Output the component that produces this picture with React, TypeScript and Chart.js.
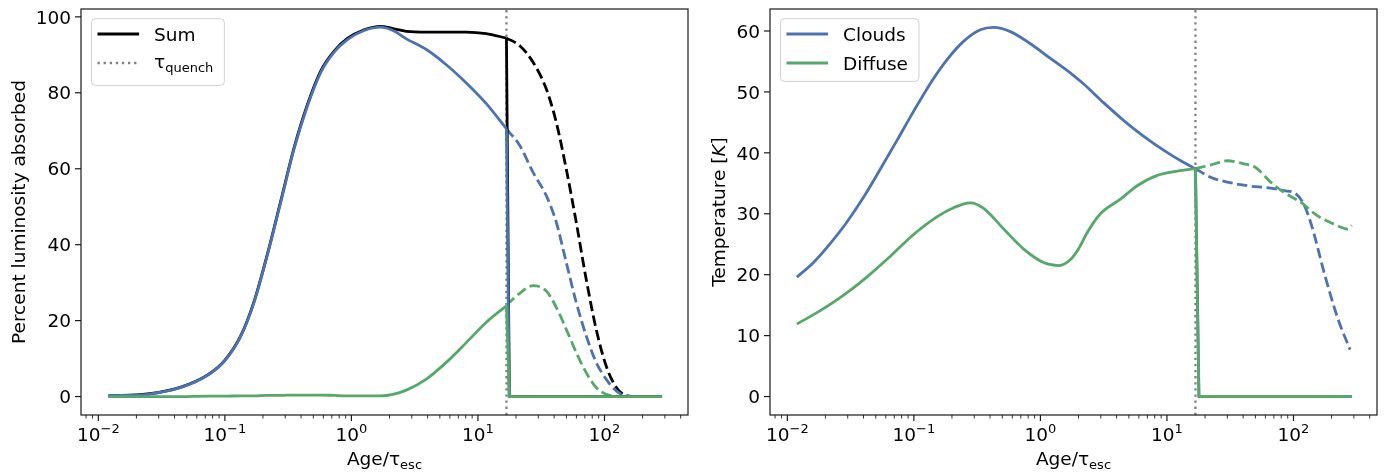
import { useEffect, useRef } from "react";
import { Chart, registerables } from "chart.js";

Chart.register(...registerables);

// ---------------------------------------------------------------------------
// Left panel: percent of the luminosity absorbed vs. age (in escape times)
// ---------------------------------------------------------------------------
const LUM_AGE = [
  0.012, 0.0245, 0.045, 0.073, 0.099, 0.134, 0.17, 0.216, 0.276, 0.352, 0.45,
  0.573, 0.73, 0.93, 1.26, 1.7, 2.13, 2.72, 3.91, 5.62, 8.09, 11.6, 16.8,
];
const LUM_SUM = [
  0.2, 0.7, 2.5, 5.7, 9.4, 16.1, 25.0, 37.3, 51.4, 65.5, 77.0,
  85.8, 91.0, 94.3, 96.6, 97.5, 96.9, 96.2, 96.0, 96.0, 96.0, 95.6, 94.4,
];
const LUM_CLOUDS = [
  0.2, 0.6, 2.4, 5.6, 9.3, 16.0, 24.8, 37.1, 51.1, 65.2, 76.6,
  85.4, 90.7, 94.0, 96.4, 97.3, 96.4, 94.2, 91.4, 87.4, 82.6, 77.2, 70.5,
];
const LUM_DIFFUSE = [
  0, 0, 0, 0.1, 0.1, 0.2, 0.2, 0.3, 0.3, 0.4, 0.4,
  0.4, 0.3, 0.2, 0.2, 0.2, 0.6, 1.7, 4.6, 9.0, 14.2, 19.5, 23.9,
];
// After quenching everything drops to zero
const LUM_AGE_OFF = [17.7, 285];
const LUM_OFF = [0, 0];

// Continuation without quenching (dashed)
const LUM_AGE_NQ = [16.8, 21.4, 27.2, 34.7, 41.6, 49.9, 59.8, 71.7, 86, 103, 124, 148, 180, 285];
const LUM_SUM_NQ = [94.4, 92.4, 88.1, 81.0, 72.2, 59.9, 45.9, 30.9, 17.7, 8.1, 2.4, 0.3, 0, 0];
const LUM_CLOUDS_NQ = [70.5, 66.1, 59.1, 52.9, 45.9, 35.3, 24.8, 16.0, 9.0, 4.6, 1.5, 0.2, 0, 0];
const LUM_DIFFUSE_NQ = [24.1, 27.2, 29.2, 27.8, 23.5, 17.7, 11.6, 6.3, 2.4, 0.6, 0.1, 0, 0, 0];

// ---------------------------------------------------------------------------
// Right panel: dust temperature vs. age
// ---------------------------------------------------------------------------
const TEMP_AGE_CLOUDS = [
  0.0119, 0.0161, 0.0218, 0.0295, 0.04, 0.0542, 0.0734, 0.0994, 0.135, 0.183, 0.247,
  0.335, 0.427, 0.579, 0.834, 1.2, 1.73, 2.2, 3.17, 4.56, 6.56, 9.46, 13.6, 16.8,
];
const TEMP_CLOUDS = [
  19.6, 22.0, 25.1, 28.6, 32.7, 37.3, 42.0, 46.8, 51.4, 55.3, 58.3,
  60.2, 60.6, 59.9, 57.9, 55.5, 53.1, 51.3, 48.2, 45.3, 42.7, 40.4, 38.4, 37.4,
];
const TEMP_AGE_DIFFUSE = [
  0.0119, 0.0182, 0.0277, 0.0425, 0.065, 0.0994, 0.152, 0.206, 0.279, 0.356, 0.513,
  0.738, 1.06, 1.4, 1.73, 2.01, 2.34, 2.98, 4.29, 5.82, 8.38, 12.1, 16.8,
];
const TEMP_DIFFUSE = [
  11.9, 14.1, 16.6, 19.6, 23.0, 26.6, 29.5, 31.0, 31.8, 30.9, 27.5,
  24.2, 22.0, 21.5, 22.5, 24.3, 26.9, 30.0, 32.4, 34.6, 36.3, 37.0, 37.4,
];
const TEMP_AGE_OFF = [17.9, 289];
const TEMP_OFF = [0, 0];

const TEMP_AGE_CLOUDS_NQ = [16.8, 22.1, 30, 43.2, 66, 84, 104, 121, 139, 177, 225, 280];
const TEMP_CLOUDS_NQ = [37.4, 36.0, 35.2, 34.6, 34.2, 33.8, 33.3, 31.5, 28.1, 19.9, 12.7, 7.7];
const TEMP_AGE_DIFFUSE_NQ = [16.8, 22.1, 30, 40.6, 50.2, 66, 84, 114, 154, 209, 267, 289];
const TEMP_DIFFUSE_NQ = [37.4, 38.0, 38.7, 38.2, 37.6, 35.2, 33.5, 31.9, 29.7, 28.3, 27.5, 28.1];

// Quench time and axis ticks
const T_QUENCH = 16.8;
const X_EXPONENTS = [-2, -1, 0, 1, 2];
const LUM_TICKS = [0, 20, 40, 60, 80, 100];
const TEMP_TICKS = [0, 10, 20, 30, 40, 50, 60];
const LUM_RANGE = [-4.86, 102.07];
const TEMP_RANGE = [-3.03, 63.61];
const AGE_RANGE = [Math.pow(10, -2.137), Math.pow(10, 2.66)];

// ---------------------------------------------------------------------------
// Styling
// ---------------------------------------------------------------------------
const BLUE = "#4C72B0";
const GREEN = "#55A868";
const BLACK = "#000000";
const GREY = "#808080";
const LW = 2.8;
const DASH = [10.4, 4.5];
const DOT = [2.3, 3.8];
const FAMILY = "'DejaVu Sans', sans-serif";
const BIG = 18.5;
const SMALL = 13;

type Run = { t: string; px: number; dy?: number; italic?: boolean };
type LegendEntry = { color: string; dotted?: boolean; label: Run[] };
type Decor = {
  yTicks: number[];
  yTitle: Run[];
  yTitleX: number;
  legend: LegendEntry[];
  legendHeight: number;
};

const fontOf = (r: Run) => `${r.italic ? "italic " : ""}${r.px}px ${FAMILY}`;

function runsWidth(ctx: CanvasRenderingContext2D, runs: Run[]) {
  let w = 0;
  for (const r of runs) {
    ctx.font = fontOf(r);
    w += ctx.measureText(r.t).width;
  }
  return w;
}

function drawRuns(ctx: CanvasRenderingContext2D, runs: Run[], x: number, y: number) {
  let cx = x;
  for (const r of runs) {
    ctx.font = fontOf(r);
    ctx.fillText(r.t, cx, y + (r.dy || 0));
    cx += ctx.measureText(r.t).width;
  }
}

function pts(xs: number[], ys: number[]) {
  return xs.map((x, i) => ({ x, y: ys[i] }));
}

function series(label: string, xs: number[], ys: number[], color: string, dashed = false) {
  return {
    label,
    data: pts(xs, ys),
    borderColor: color,
    backgroundColor: color,
    borderWidth: LW,
    borderDash: dashed ? DASH : [],
    borderCapStyle: "butt" as const,
    borderJoinStyle: "round" as const,
    cubicInterpolationMode: "monotone" as const,
    pointRadius: 0,
    fill: false,
  };
}

// Straight drop from the last pre-quench value down to the zero plateau
function dropSeries(label: string, xs: number[], ys: number[], offAge: number[], off: number[], color: string) {
  const n = xs.length - 1;
  return {
    label,
    data: pts([xs[n], ...offAge], [ys[n], ...off]),
    borderColor: color,
    backgroundColor: color,
    borderWidth: LW,
    borderCapStyle: "butt" as const,
    borderJoinStyle: "miter" as const,
    tension: 0,
    pointRadius: 0,
    fill: false,
  };
}

function quenchLine(yRange: number[]) {
  return {
    label: "quench",
    data: pts([T_QUENCH, T_QUENCH], yRange),
    borderColor: GREY,
    borderWidth: 2.3,
    borderDash: DOT,
    borderCapStyle: "butt" as const,
    pointRadius: 0,
    tension: 0,
    fill: false,
  };
}

function decorPlugin(decor: Decor) {
  return {
    id: "axesDecor",
    afterDatasetsDraw(chart: any) {
      const { ctx, chartArea: a, scales } = chart;
      const xs = scales.x;
      const ys = scales.y;
      ctx.save();

      // axes frame
      ctx.strokeStyle = "#1a1a1a";
      ctx.lineWidth = 1.2;
      ctx.strokeRect(a.left, a.top, a.right - a.left, a.bottom - a.top);

      // x ticks (log, with minor ticks)
      for (let e = -3; e <= 3; e++) {
        for (let m = 1; m <= 9; m++) {
          const v = m * Math.pow(10, e);
          if (v < xs.min || v > xs.max) continue;
          const px = xs.getPixelForValue(v);
          ctx.lineWidth = m === 1 ? 1.2 : 0.9;
          ctx.beginPath();
          ctx.moveTo(px, a.bottom);
          ctx.lineTo(px, a.bottom + (m === 1 ? 6 : 3.5));
          ctx.stroke();
        }
      }
      ctx.fillStyle = "#000";
      ctx.textBaseline = "alphabetic";
      for (const e of X_EXPONENTS) {
        const px = xs.getPixelForValue(Math.pow(10, e));
        const runs: Run[] = [
          { t: "10", px: BIG },
          { t: e < 0 ? "\u2212" + -e : String(e), px: SMALL, dy: -7.5 },
        ];
        drawRuns(ctx, runs, px - runsWidth(ctx, runs) / 2, 440.5);
      }

      // y ticks
      ctx.lineWidth = 1.2;
      for (const v of decor.yTicks) {
        const py = ys.getPixelForValue(v);
        ctx.beginPath();
        ctx.moveTo(a.left - 6, py);
        ctx.lineTo(a.left, py);
        ctx.stroke();
        const runs: Run[] = [{ t: String(v), px: BIG }];
        drawRuns(ctx, runs, a.left - 10 - runsWidth(ctx, runs), py + 6.7);
      }

      // x title
      const xt: Run[] = [
        { t: "Age/\u03c4", px: BIG },
        { t: "esc", px: SMALL, dy: 3.5 },
      ];
      drawRuns(ctx, xt, (a.left + a.right) / 2 - runsWidth(ctx, xt) / 2, 465);

      // y title (rotated)
      ctx.save();
      ctx.translate(decor.yTitleX, (a.top + a.bottom) / 2);
      ctx.rotate(-Math.PI / 2);
      drawRuns(ctx, decor.yTitle, -runsWidth(ctx, decor.yTitle) / 2, 6.5);
      ctx.restore();

      // legend
      const bx = a.left + 10.5;
      const by = a.top + 9.7;
      const handleX = bx + 6;
      const textX = handleX + 41.6 + 15;
      let maxW = 0;
      for (const en of decor.legend) maxW = Math.max(maxW, runsWidth(ctx, en.label));
      const bw = textX + maxW + 11 - bx;
      ctx.beginPath();
      (ctx as any).roundRect(bx, by, bw, decor.legendHeight, 4);
      ctx.fillStyle = "rgba(255,255,255,0.8)";
      ctx.fill();
      ctx.strokeStyle = "#d0d0d0";
      ctx.lineWidth = 1;
      ctx.stroke();
      decor.legend.forEach((en, i) => {
        const ry = by + 15.3 + i * 29;
        ctx.strokeStyle = en.color;
        ctx.lineWidth = en.dotted ? 2.3 : LW;
        ctx.setLineDash(en.dotted ? DOT : []);
        ctx.lineCap = "butt";
        ctx.beginPath();
        ctx.moveTo(handleX, ry);
        ctx.lineTo(handleX + 41.6, ry);
        ctx.stroke();
        ctx.setLineDash([]);
        ctx.fillStyle = "#000";
        const hasSub = en.label.length > 1;
        drawRuns(ctx, en.label, textX, ry + (hasSub ? 5 : 6.8));
      });

      ctx.restore();
    },
  };
}

type PanelProps = {
  left: number;
  padLeft: number;
  padRight: number;
  yRange: number[];
  datasets: any[];
  decor: Decor;
};

function Panel({ left, padLeft, padRight, yRange, datasets, decor }: PanelProps) {
  const ref = useRef<HTMLCanvasElement | null>(null);
  useEffect(() => {
    if (!ref.current) return;
    const chart = new Chart(ref.current, {
      type: "line",
      data: { datasets },
      options: {
        animation: false,
        responsive: false,
        maintainAspectRatio: false,
        events: [],
        layout: { padding: { left: padLeft, right: padRight, top: 9, bottom: 57 } },
        plugins: { legend: { display: false }, tooltip: { enabled: false } },
        scales: {
          x: { type: "logarithmic", min: AGE_RANGE[0], max: AGE_RANGE[1], display: false },
          y: { type: "linear", min: yRange[0], max: yRange[1], display: false },
        },
      },
      plugins: [decorPlugin(decor)],
    } as any);
    return () => chart.destroy();
  }, []);
  return (
    <canvas
      ref={ref}
      width={697}
      height={472}
      style={{ position: "absolute", left, top: 0, width: 697, height: 472, display: "block" }}
    />
  );
}

export default function App() {
  // first dataset is drawn on top
  const lumSets = [
    series("Diffuse", LUM_AGE, LUM_DIFFUSE, GREEN),
    dropSeries("Diffuse (quenched)", LUM_AGE, LUM_DIFFUSE, LUM_AGE_OFF, LUM_OFF, GREEN),
    series("Clouds", LUM_AGE, LUM_CLOUDS, BLUE),
    dropSeries("Clouds (quenched)", LUM_AGE, LUM_CLOUDS, LUM_AGE_OFF, LUM_OFF, BLUE),
    series("Sum", LUM_AGE, LUM_SUM, BLACK),
    dropSeries("Sum (quenched)", LUM_AGE, LUM_SUM, LUM_AGE_OFF, LUM_OFF, BLACK),
    series("Diffuse (no quench)", LUM_AGE_NQ, LUM_DIFFUSE_NQ, GREEN, true),
    series("Clouds (no quench)", LUM_AGE_NQ, LUM_CLOUDS_NQ, BLUE, true),
    series("Sum (no quench)", LUM_AGE_NQ, LUM_SUM_NQ, BLACK, true),
    quenchLine(LUM_RANGE),
  ];
  const tempSets = [
    series("Diffuse", TEMP_AGE_DIFFUSE, TEMP_DIFFUSE, GREEN),
    dropSeries("Diffuse (quenched)", TEMP_AGE_DIFFUSE, TEMP_DIFFUSE, TEMP_AGE_OFF, TEMP_OFF, GREEN),
    series("Clouds", TEMP_AGE_CLOUDS, TEMP_CLOUDS, BLUE),
    dropSeries("Clouds (quenched)", TEMP_AGE_CLOUDS, TEMP_CLOUDS, TEMP_AGE_OFF, TEMP_OFF, BLUE),
    series("Diffuse (no quench)", TEMP_AGE_DIFFUSE_NQ, TEMP_DIFFUSE_NQ, GREEN, true),
    series("Clouds (no quench)", TEMP_AGE_CLOUDS_NQ, TEMP_CLOUDS_NQ, BLUE, true),
    quenchLine(TEMP_RANGE),
  ];

  const lumDecor: Decor = {
    yTicks: LUM_TICKS,
    yTitle: [{ t: "Percent luminosity absorbed", px: BIG }],
    yTitleX: 18,
    legend: [
      { color: BLACK, label: [{ t: "Sum", px: BIG }] },
      {
        color: GREY,
        dotted: true,
        label: [
          { t: "\u03c4", px: BIG },
          { t: "quench", px: SMALL, dy: 4 },
        ],
      },
    ],
    legendHeight: 66.7,
  };
  const tempDecor: Decor = {
    yTicks: TEMP_TICKS,
    yTitle: [
      { t: "Temperature [", px: BIG },
      { t: "K", px: BIG, italic: true },
      { t: "]", px: BIG },
    ],
    yTitleX: 21,
    legend: [
      { color: BLUE, label: [{ t: "Clouds", px: BIG }] },
      { color: GREEN, label: [{ t: "Diffuse", px: BIG }] },
    ],
    legendHeight: 62.7,
  };

  return (
    <div style={{ position: "fixed", left: 0, top: 0, width: 1394, height: 472, background: "#fff" }}>
      <Panel left={0} padLeft={81} padRight={9} yRange={LUM_RANGE} datasets={lumSets} decor={lumDecor} />
      <Panel left={697} padLeft={73} padRight={17} yRange={TEMP_RANGE} datasets={tempSets} decor={tempDecor} />
    </div>
  );
}
